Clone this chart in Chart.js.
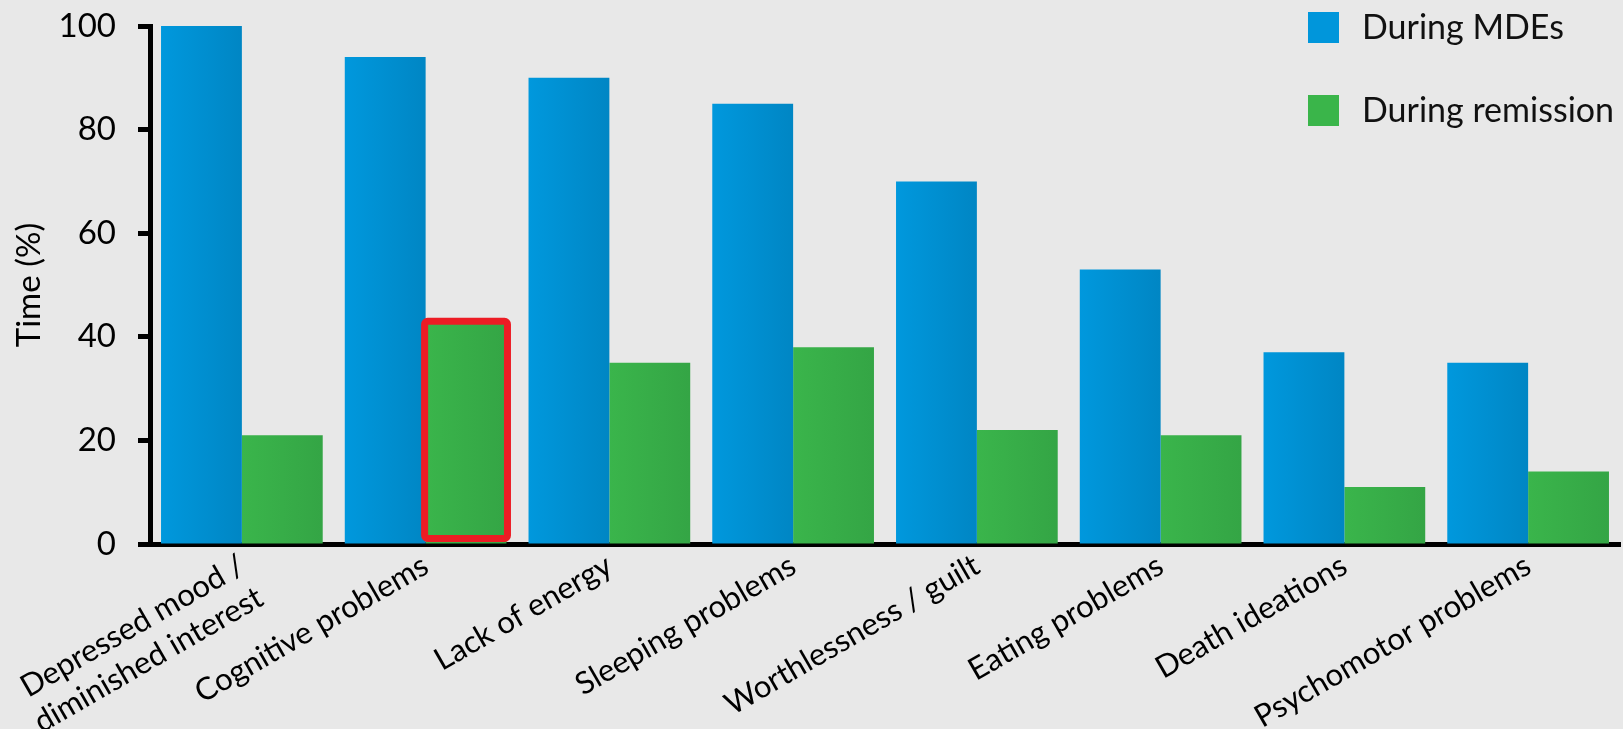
<!DOCTYPE html>
<html>
<head>
<meta charset="utf-8">
<script src="https://cdn.jsdelivr.net/npm/chart.js@4.4.1/dist/chart.umd.min.js"></script>
<style>
    html, body { margin: 0; padding: 0; background: #e8e8e8; }
    #wrap { width: 1623px; height: 729px; position: relative; }
</style>
</head>
<body>
<div id="wrap"><canvas id="symptomChart"></canvas></div>
<script>
// Symptom categories (x axis)
const categories = [
    ['Depressed mood /', 'diminished interest'],
    'Cognitive problems',
    'Lack of energy',
    'Sleeping problems',
    'Worthlessness / guilt',
    'Eating problems',
    'Death ideations',
    'Psychomotor problems'
];

// Time (%)
const duringMDEs = [100, 94, 90, 85, 70, 53, 37, 35];
const duringRemission = [21, 43, 35, 38, 22, 21, 11, 14];
const seriesLabels = ['During MDEs', 'During remission'];

// Bar highlighted with a red frame (Cognitive problems, remission)
const highlightIndex = 1;

const FONT = 'Lato, "Open Sans", sans-serif';
const GROUP_FILL = 0.88;

/**
 * Horizontal gradient across one bar, computed from the scales
 */
function barGradient(light, dark, side) {
    return function(context) {
        const chart = context.chart;
        const xScale = chart.scales.x;
        if (!chart.chartArea || !xScale || context.type !== 'data') return light;
        const center = xScale.getPixelForValue(context.dataIndex);
        const half = (xScale.width / categories.length) * GROUP_FILL / 2;
        const left = side === 0 ? center - half : center;
        const g = chart.ctx.createLinearGradient(left, 0, left + half, 0);
        g.addColorStop(0, light);
        g.addColorStop(1, dark);
        return g;
    };
}

// Red frame around the highlighted remission bar, taken from the bar element
const highlightFrame = {
    id: 'highlightFrame',
    afterDatasetsDraw(chart) {
        const bar = chart.getDatasetMeta(1).data[highlightIndex];
        if (!bar) return;
        const { x, y, width, base } = bar.getProps(['x', 'y', 'width', 'base'], true);
        const ctx = chart.ctx;
        ctx.save();
        ctx.strokeStyle = '#ec1c24';
        ctx.lineWidth = 7;
        ctx.lineJoin = 'round';
        ctx.beginPath();
        ctx.roundRect(x - width / 2 - 1, y, width + 2, base - 5 - y, 3);
        ctx.stroke();
        ctx.restore();
    }
};

// Legend drawn in the top right corner, over the plot
const cornerLegend = {
    id: 'cornerLegend',
    afterDraw(chart) {
        const ctx = chart.ctx;
        ctx.save();
        ctx.font = '34px ' + FONT;
        ctx.textBaseline = 'middle';
        chart.data.datasets.forEach((ds, i) => {
            const y = 12 + i * 83;
            ctx.fillStyle = ds.legendColor;
            ctx.fillRect(1308, y, 31, 31);
            ctx.fillStyle = '#111';
            ctx.fillText(ds.label, 1362, y + 16);
        });
        ctx.restore();
    }
};

const ctx = document.getElementById('symptomChart');

new Chart(ctx, {
    type: 'bar',
    data: {
        labels: categories,
        datasets: [{
            label: seriesLabels[0],
            data: duringMDEs,
            legendColor: '#0096db',
            backgroundColor: barGradient('#0098dd', '#0086c4', 0),
            borderWidth: 0
        }, {
            label: seriesLabels[1],
            data: duringRemission,
            legendColor: '#3ab54a',
            backgroundColor: barGradient('#3ab54b', '#34a545', 1),
            borderWidth: 0
        }]
    },
    options: {
        responsive: true,
        maintainAspectRatio: false,
        animation: false,
        datasets: {
            bar: {
                barPercentage: 1,
                categoryPercentage: GROUP_FILL
            }
        },
        layout: {
            padding: { top: 26, right: 3, left: 0, bottom: 0 }
        },
        plugins: {
            legend: { display: false },
            tooltip: { enabled: false }
        },
        scales: {
            x: {
                grid: { display: false, drawTicks: false },
                border: { display: true, color: '#000', width: 5 },
                ticks: {
                    color: '#000',
                    font: { family: FONT, size: 31 },
                    maxRotation: 30,
                    minRotation: 30,
                    autoSkip: false,
                    padding: 3
                },
                afterFit: (scale) => {
                    scale.height = 185;
                    scale.paddingLeft = 0;
                    scale.paddingRight = 0;
                }
            },
            y: {
                min: 0,
                max: 100,
                ticks: {
                    stepSize: 20,
                    color: '#000',
                    font: { family: FONT, size: 33 },
                    padding: 22
                },
                grid: {
                    drawOnChartArea: false,
                    drawTicks: true,
                    tickLength: 12,
                    tickWidth: 5,
                    color: '#000'
                },
                border: { display: true, color: '#000', width: 5 },
                title: {
                    display: true,
                    text: 'Time (%)',
                    color: '#000',
                    font: { family: FONT, size: 33 },
                    padding: { top: 10, bottom: 0 }
                },
                afterFit: (scale) => {
                    scale.width = 150;
                    scale.paddingTop = 0;
                    scale.paddingBottom = 0;
                }
            }
        }
    },
    plugins: [highlightFrame, cornerLegend]
});
</script>
</body>
</html>
